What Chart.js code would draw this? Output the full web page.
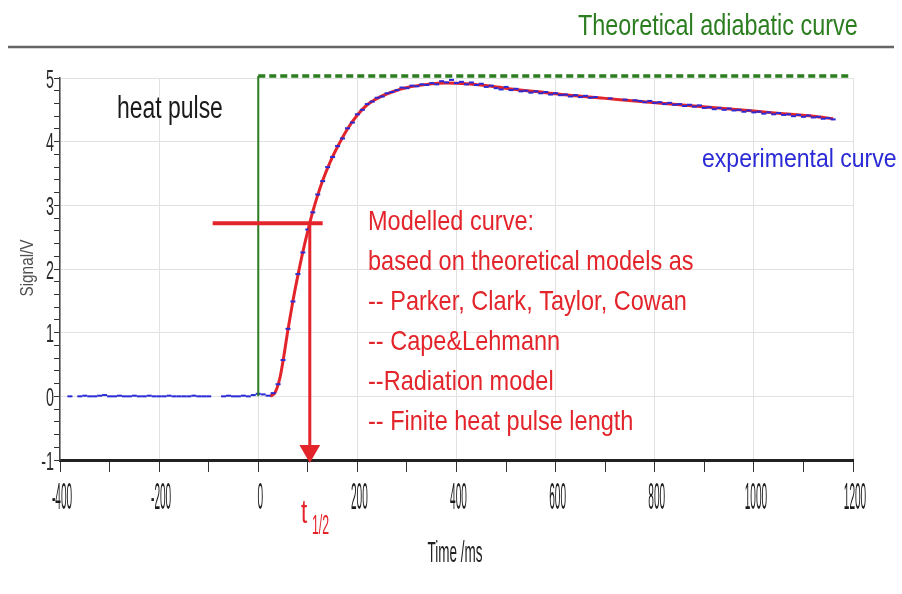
<!DOCTYPE html>
<html>
<head>
<meta charset="utf-8">
<title>Laser flash signal</title>
<script src="https://cdn.jsdelivr.net/npm/chart.js@4.4.1/dist/chart.umd.min.js"></script>
<style>
  html, body { margin: 0; padding: 0; background: #ffffff; }
  canvas { display: block; }
</style>
</head>
<body>
<canvas id="flashChart" width="902" height="594"></canvas>
<script>
// Axis ranges and label steps
const xRange = [-400, 1200];
const yRange = [-1, 5];
const xLabelStep = 200;
const yLabelStep = 1;

// Theoretical adiabatic curve: step at the pulse, then flat
const adiabaticTime = [0, 0, 1195];
const adiabaticSignal = [0, 5.03, 5.03];

// Modelled curve (fitted)
const modelTime = [24, 34, 44, 52, 60, 70, 80, 90, 100, 110, 120, 130, 145, 160, 180, 200, 220, 245, 270, 300,
  340, 380, 420, 470, 520, 580, 640, 700, 760, 820, 880, 940, 1000, 1060, 1120, 1160];
const modelSignal = [0, 0.06, 0.3, 0.65, 1.05, 1.5, 1.9, 2.27, 2.6, 2.9, 3.16, 3.39, 3.68, 3.92, 4.2, 4.42, 4.58, 4.7, 4.78, 4.85,
  4.9, 4.92, 4.91, 4.87, 4.82, 4.77, 4.72, 4.68, 4.64, 4.6, 4.56, 4.52, 4.48, 4.44, 4.4, 4.36];

// Measured detector signal
const expTime = [-380, -360, -350, -340, -330, -320, -310, -300, -290, -280, -270, -260, -250, -240, -230, -220,
  -210, -200, -190, -180, -170, -160, -150, -140, -130, -120, -110, -100, -70, -60, -50, -40, -30, -20, -10,
  0, 10, 20, 30, 40, 50, 60, 70, 80, 90, 100, 110, 120, 130, 140, 150, 160, 170, 180, 190, 200, 210, 220, 230,
  240, 250, 260, 270, 280, 290, 300, 310, 320, 330, 340, 350, 360, 370, 380, 390, 400, 410, 420, 430, 440, 450,
  460, 470, 480, 490, 500, 510, 520, 530, 540, 550, 560, 570, 580, 590, 600, 610, 620, 630, 640, 650, 660, 670,
  680, 710, 740, 760, 770, 780, 790, 800, 810, 820, 830, 840, 850, 860, 870, 880, 890, 900, 910, 920, 930, 940,
  950, 960, 970, 980, 990, 1000, 1010, 1020, 1030, 1040, 1050, 1060, 1070, 1080, 1090, 1100, 1110, 1120, 1130,
  1140, 1150, 1160];
const expSignal = [0, 0, 0.01, 0, 0, 0.01, 0.02, 0, 0, 0.01, 0, 0, 0.01, 0, 0, 0.01, 0, 0, 0, 0.01, 0, 0, 0, 0, 0.01,
  0, 0, 0, 0, 0.01, 0, 0, 0.01, 0, 0.02,
  0.04, 0.03, 0.01, 0.05, 0.19, 0.57, 1.06, 1.49, 1.92, 2.26, 2.62, 2.89, 3.17, 3.38, 3.6, 3.76, 3.93, 4.05, 4.21,
  4.3, 4.43, 4.5, 4.59, 4.63, 4.69, 4.71, 4.76, 4.78, 4.81, 4.85, 4.84, 4.88, 4.87, 4.9, 4.89, 4.92, 4.9, 4.95,
  4.93, 4.97, 4.92, 4.94, 4.9, 4.93, 4.89, 4.91, 4.86, 4.88, 4.84, 4.82, 4.86, 4.81, 4.83, 4.79, 4.8, 4.77, 4.79,
  4.76, 4.78, 4.74, 4.76, 4.73, 4.74, 4.71, 4.73, 4.7, 4.72, 4.69, 4.7, 4.68, 4.66, 4.65, 4.64, 4.62, 4.64, 4.61,
  4.62, 4.59, 4.61, 4.58, 4.59, 4.56, 4.58, 4.55, 4.57, 4.53, 4.54, 4.51, 4.53, 4.5, 4.52, 4.49, 4.5, 4.47, 4.49,
  4.46, 4.47, 4.44, 4.46, 4.43, 4.45, 4.42, 4.43, 4.4, 4.42, 4.39, 4.41, 4.38, 4.39, 4.36, 4.37, 4.35];

// Half-rise time marker
const halfLevel = 2.72;
const halfTime = 104;
const halfBar = [-92, 130];
const arrowHeadAt = -0.86;

const RED = '#e3242b';
const BLUE = '#2a2ad6';
const GREEN = '#2b7d1f';

function toPoints(xs, ys) {
    return xs.map((x, i) => ({ x: x, y: ys[i] }));
}

// Draw text squeezed horizontally (the labels are tall and narrow)
function stretchText(ctx, text, x, y, size, sx, color, align) {
    ctx.save();
    ctx.translate(x, y);
    ctx.scale(sx, 1);
    ctx.font = size + 'px "Liberation Sans", Arial, sans-serif';
    ctx.fillStyle = color;
    ctx.textAlign = align || 'left';
    ctx.textBaseline = 'alphabetic';
    ctx.fillText(text, 0, 0);
    ctx.restore();
}

function isMultiple(v, step) {
    const r = v / step;
    return Math.abs(r - Math.round(r)) < 1e-6;
}

const annotations = {
    id: 'annotations',
    afterDraw(chart) {
        const ctx = chart.ctx;
        const xs = chart.scales.x;
        const ys = chart.scales.y;

        // separator under the heading
        ctx.save();
        ctx.strokeStyle = '#666666';
        ctx.lineWidth = 2.5;
        ctx.beginPath();
        ctx.moveTo(8, 47);
        ctx.lineTo(894, 47);
        ctx.stroke();
        ctx.restore();

        stretchText(ctx, 'Theoretical adiabatic curve', 578, 35, 30, 0.78, GREEN);

        // tick labels
        xs.ticks.forEach(t => {
            if (!isMultiple(t.value, xLabelStep)) return;
            stretchText(ctx, String(Math.round(t.value)), xs.getPixelForValue(t.value) + 2, 509, 36, 0.28, '#1a1a1a', 'center');
        });
        ys.ticks.forEach(t => {
            if (!isMultiple(t.value, yLabelStep)) return;
            stretchText(ctx, String(Math.round(t.value)), 54, ys.getPixelForValue(t.value) + 9.5, 26, 0.55, '#2a2a2a', 'right');
        });

        // axis titles
        stretchText(ctx, 'Time /ms', 455, 562, 30, 0.45, '#222222', 'center');
        ctx.save();
        ctx.translate(33, 268);
        ctx.rotate(-Math.PI / 2);
        ctx.scale(0.85, 1);
        ctx.font = '18px "Liberation Sans", Arial, sans-serif';
        ctx.fillStyle = '#505050';
        ctx.textAlign = 'center';
        ctx.textBaseline = 'alphabetic';
        ctx.fillText('Signal/V', 0, 0);
        ctx.restore();

        // text labels inside the plot
        stretchText(ctx, 'heat pulse', 117, 118, 31, 0.74, '#1a1a1a');
        stretchText(ctx, 'experimental curve', 702, 167, 26, 0.886, BLUE);

        const notes = [
            'Modelled curve:',
            'based on theoretical models as',
            '-- Parker, Clark, Taylor, Cowan',
            '-- Cape&Lehmann',
            '--Radiation model',
            '-- Finite heat pulse length'
        ];
        notes.forEach((line, i) => {
            stretchText(ctx, line, 368, 230 + i * 40, 28, 0.84, RED);
        });

        // t1/2 below the arrow
        stretchText(ctx, 't', 301, 523, 33, 0.68, RED);
        stretchText(ctx, '1/2', 312, 534, 28, 0.44, RED);
    }
};

const majorGrid = '#e2e2e2';

new Chart(document.getElementById('flashChart'), {
    type: 'scatter',
    data: {
        datasets: [
            {
                label: 'Modelled curve',
                data: toPoints(modelTime, modelSignal),
                showLine: true,
                borderColor: RED,
                borderWidth: 3,
                pointRadius: 0,
                cubicInterpolationMode: 'monotone',
                order: 3
            },
            {
                label: 'Experimental curve',
                data: toPoints(expTime, expSignal),
                showLine: false,
                pointStyle: 'line',
                pointRadius: 2.5,
                pointBorderWidth: 2,
                borderColor: BLUE,
                backgroundColor: BLUE,
                order: 2
            },
            {
                label: 'Theoretical adiabatic curve',
                data: toPoints(adiabaticTime, adiabaticSignal),
                showLine: true,
                borderColor: GREEN,
                pointRadius: 0,
                clip: false,
                segment: {
                    borderDash: c => c.p0DataIndex === 0 ? [] : [7, 4],
                    borderWidth: c => c.p0DataIndex === 0 ? 2 : 3.5
                },
                order: 1
            },
            {
                label: 't1/2 level',
                data: [{ x: halfBar[0], y: halfLevel }, { x: halfBar[1], y: halfLevel }],
                showLine: true,
                borderColor: RED,
                borderWidth: 4,
                pointRadius: 0,
                order: 0
            },
            {
                label: 't1/2 arrow',
                data: [{ x: halfTime, y: halfLevel }, { x: halfTime, y: arrowHeadAt }, { x: halfTime, y: yRange[0] }],
                showLine: true,
                borderColor: RED,
                backgroundColor: RED,
                borderWidth: 3,
                pointStyle: 'triangle',
                pointRotation: 180,
                pointRadius: [0, 9, 0],
                clip: false,
                order: 0
            }
        ]
    },
    options: {
        responsive: false,
        animation: false,
        layout: { padding: { left: 0, right: 49, top: 78, bottom: 0 } },
        plugins: {
            legend: { display: false },
            tooltip: { enabled: false }
        },
        scales: {
            x: {
                type: 'linear',
                min: xRange[0],
                max: xRange[1],
                afterFit: s => { s.height = 134; },
                border: { color: '#222222', width: 3 },
                grid: {
                    color: c => (c.tick && isMultiple(c.tick.value, xLabelStep)) ? majorGrid : 'rgba(0,0,0,0)',
                    tickColor: '#333333',
                    tickLength: 12,
                    lineWidth: 1
                },
                ticks: {
                    stepSize: 100,
                    autoSkip: false,
                    maxRotation: 0,
                    callback: () => ''
                }
            },
            y: {
                type: 'linear',
                min: yRange[0],
                max: yRange[1],
                afterFit: s => { s.width = 60; },
                border: { color: '#444444', width: 1.5 },
                grid: {
                    color: c => (c.tick && c.tick.value > yRange[0] && isMultiple(c.tick.value, yLabelStep)) ? majorGrid : 'rgba(0,0,0,0)',
                    tickColor: '#333333',
                    tickLength: 6,
                    lineWidth: 1
                },
                ticks: {
                    stepSize: 0.2,
                    autoSkip: false,
                    callback: () => ''
                }
            }
        }
    },
    plugins: [annotations]
});
</script>
</body>
</html>
